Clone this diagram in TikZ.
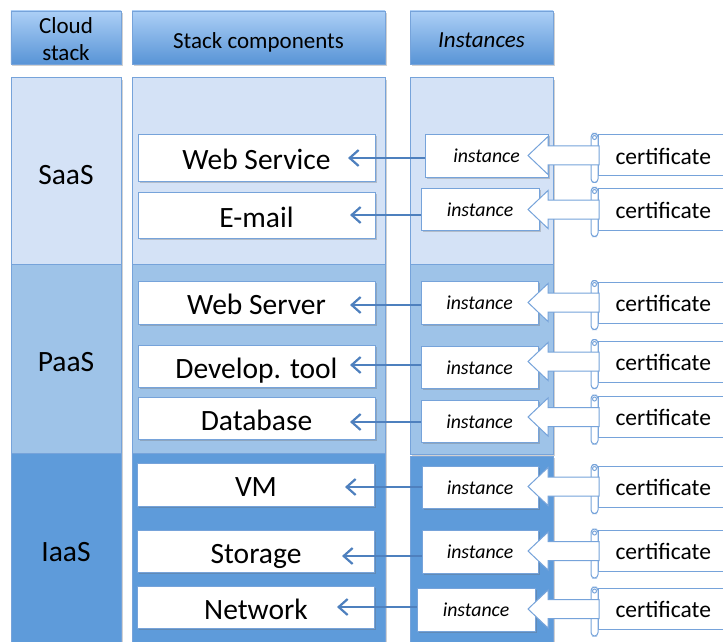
\documentclass[tikz,border=0pt]{standalone}
\usepackage{fontspec}
\setmainfont{Carlito}
\usetikzlibrary{shadows,arrows.meta,calc,fit}
\definecolor{hdrtop}{RGB}{172,207,246}
\definecolor{hdrbot}{RGB}{88,148,214}
\definecolor{edge}{RGB}{118,163,218}
\definecolor{saasfill}{RGB}{212,226,246}
\definecolor{paasfill}{RGB}{158,195,232}
\definecolor{iaasfill}{RGB}{94,155,218}
\definecolor{linkblue}{RGB}{78,128,190}
\newcommand\compfont{\fontsize{29.5bp}{33bp}\selectfont}
\newcommand\headfont{\fontsize{23bp}{27bp}\selectfont}
\begin{document}
\begin{tikzpicture}[x=1bp,y=-1bp,
  softshadow/.style={drop shadow={shadow xshift=1.5bp,shadow yshift=-2bp,opacity=0.3,fill=black!60}},
  header/.style={draw=edge,line width=0.8bp,top color=hdrtop,bottom color=hdrbot,
    inner sep=0pt,softshadow,minimum height=53bp},
  headtext/.style={font=\headfont,align=center,text depth=0pt,inner sep=0pt},
  band/.style={draw=edge,line width=1bp,inner sep=0pt,softshadow},
  bandtext/.style={font=\compfont,text depth=0pt,inner sep=0pt,yshift=-3.5bp},
  compbox/.style={draw=edge,line width=0.8bp,fill=white,minimum width=237bp,
    inner sep=0pt,softshadow,font=\compfont,text height=24.5bp,text depth=0pt},
  instbox/.style={draw=edge,line width=0.8bp,fill=white,inner sep=0pt,softshadow,
    font=\fontsize{19.8bp}{22bp}\selectfont\itshape,text height=14.5bp,text depth=0pt},
  cert/.style={draw=edge,line width=1bp,fill=white,anchor=west,minimum height=41bp,
    text width=110bp,inner xsep=17bp,inner ysep=0pt,align=left,
    font=\fontsize{23.5bp}{26bp}\selectfont,text height=17.8bp,text depth=0pt},
  certline/.style={draw=edge,line width=1bp,fill=white},
  link/.style={draw=linkblue,line width=2.2bp,-{Straight Barb[length=9bp,width=16bp]}},
  blockarrow/.style={draw=edge,fill=white,line width=1bp,line join=miter}
]
\useasboundingbox (0,0) rectangle (723,642);
\clip (0,0) rectangle (723,642);

% column headers
\node[header,minimum width=110bp,
  label={[headtext,yshift=-1.3bp]center:Cloud\\stack}] (hcloud) at (66,37.5) {};
\node[header,minimum width=253bp,
  label={[headtext,yshift=-3bp]center:Stack components}] (hcomp) at (258.5,37.5) {};
\node[header,minimum width=143bp,
  label={[headtext,yshift=-3bp]center:\itshape Instances}] (hinst) at (481.5,37.5) {};

% layer bands
\node[band,fill=saasfill,fit={(11,78)(121,264)},label={[bandtext]center:SaaS}] (layS) {};
\node[band,fill=paasfill,fit={(11,264)(121,453)},label={[bandtext]center:PaaS}] (layP) {};
\node[band,fill=iaasfill,fit={(11,453)(121,643)},label={[bandtext]center:IaaS}] (layI) {};
\node[band,fill=saasfill,fit={(132,78)(385,264)}] (compS) {};
\node[band,fill=paasfill,fit={(132,264)(385,453)}] (compP) {};
\node[band,fill=iaasfill,fit={(132,453)(385,643)}] (compI) {};
\node[band,fill=saasfill,fit={(410,78)(553,264)}] (instS) {};
\node[band,fill=paasfill,fit={(410,264)(553,454)}] (instP) {};
\node[band,fill=iaasfill,fit={(410,456)(553,650)}] (instI) {};

% stack components
\node[compbox,minimum height=47bp] (c1) at (256.5,157.5) {Web Service};
\node[compbox,minimum height=46bp] (c2) at (256.5,215) {E-mail};
\node[compbox,minimum height=43bp] (c3) at (256.5,302.5) {Web Server};
\node[compbox,minimum height=42bp] (c4) at (256.5,366) {Develop. tool};
\node[compbox,minimum height=42bp] (c5) at (256.5,418) {Database};
\node[compbox,minimum height=43bp] (c6) at (256,484.5) {VM};
\node[compbox,minimum height=42bp] (c7) at (256,551) {Storage};
\node[compbox,minimum height=42bp] (c8) at (256,607) {Network};

% instances
\node[instbox,minimum width=123bp,minimum height=43bp] (i1) at (486.5,155.5) {instance};
\node[instbox,minimum width=118bp,minimum height=42bp] (i2) at (480,209) {instance};
\node[instbox,minimum width=117bp,minimum height=43bp] (i3) at (479.5,302.5) {instance};
\node[instbox,minimum width=117bp,minimum height=42bp] (i4) at (479.5,367) {instance};
\node[instbox,minimum width=117bp,minimum height=42bp] (i5) at (479.5,421) {instance};
\node[instbox,minimum width=116bp,minimum height=42bp] (i6) at (480,487) {instance};
\node[instbox,minimum width=116bp,minimum height=43bp] (i7) at (480,551.5) {instance};
\node[instbox,minimum width=118bp,minimum height=43bp] (i8) at (476,609.5) {instance};

% instance -> component links (tip points sit inside the component boxes)
\foreach \k/\x/\y in {1/348/158,2/350/215,3/350/305,4/350/365,5/350/422,6/345/487,7/342/556,8/337/607}{
  \coordinate (t\k) at (\x,\y);
  \draw[link] (i\k.west |- t\k) -- (t\k);
}

% certificates (scrolls) and block arrows towards the instances
\foreach \k/\y in {1/155.5,2/209.5,3/302.5,4/361.5,5/417,6/486.5,7/551,8/609}{
  \node[cert] (cert\k) at (598,\y) {certificate};
  \draw[certline,rounded corners=3.5bp] ($(cert\k.north west)+(-7,-1)$) rectangle ($(cert\k.south west)+(0,6)$);
  \draw[certline] ($(cert\k.north west)+(-3.5,3)$) circle (2bp);
  \draw[blockarrow] ($(cert\k.west)+(1,-9.5)$) -- ++(-51,0) -- ++(0,-9.5) -- ++(-20,19)
    -- ++(20,19) -- ++(0,-9.5) -- ++(51,0) -- cycle;
}
\end{tikzpicture}
\end{document}
